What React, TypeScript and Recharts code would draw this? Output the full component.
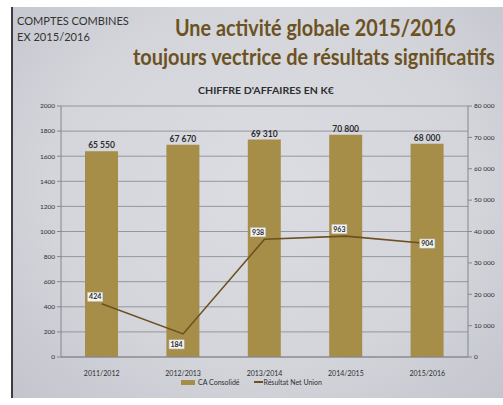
import { useLayoutEffect, useRef, useState } from 'react'
import {
  ComposedChart,
  Bar,
  Line,
  XAxis,
  YAxis,
  CartesianGrid,
  LabelList,
  Legend,
} from 'recharts'

const years = ['2011/2012', '2012/2013', '2013/2014', '2014/2015', '2015/2016']
const caConsolide = [65550, 67670, 69310, 70800, 68000]
const resultatNet = [424, 184, 938, 963, 904]
const leftTicks = [0, 200, 400, 600, 800, 1000, 1200, 1400, 1600, 1800, 2000]
const rightTicks = [0, 10000, 20000, 30000, 40000, 50000, 60000, 70000, 80000]

const data = years.map((year, i) => ({
  year,
  ca: caConsolide[i],
  net: resultatNet[i],
}))

const BAR = '#a68d48'
const LINE = '#6b5020'
const TITLE = '#6c5222'
const GRID = '#85878c'
const TEXT = '#2e2e30'
const FONT = 'Lato, "Open Sans", sans-serif'

// "65 550" style, french thousands separator (non-breaking so recharts won't wrap it)
function fr(v: number): string {
  const s = String(v)
  return s.length > 3 ? s.slice(0, -3) + '\u00a0' + s.slice(-3) : s
}

// svg text squeezed horizontally to a given width (the slide font is narrower than Lato)
function FitText({ x, y, width, size, bold, color, children }: any) {
  const ref = useRef<SVGTextElement>(null)
  const [sx, setSx] = useState(1)
  useLayoutEffect(() => {
    if (ref.current) {
      const w = ref.current.getComputedTextLength()
      if (w > 0) setSx(width / w)
    }
  }, [width])
  return (
    <text
      ref={ref}
      transform={`translate(${x},${y}) scale(${sx},1)`}
      fontSize={size}
      fontWeight={bold ? 'bold' : 'normal'}
      fontFamily={FONT}
      fill={color}
    >
      {children}
    </text>
  )
}

function XTick({ x, y, payload }: any) {
  return (
    <text x={x} y={y + 11} textAnchor="middle" fontSize={7} fontFamily={FONT} fill={TEXT}>
      {payload.value}
    </text>
  )
}

// small white boxed label beside each point of the line
function NetLabel({ x, y, value, index }: any) {
  const w = 15
  const h = 9
  let bx = x - w + 1
  let by = y - 7 - h / 2
  if (index === 1) by = y + 6
  if (index === resultatNet.length - 1) {
    bx = x - w / 2
    by = y - h / 2
  }
  return (
    <g>
      <rect x={bx} y={by} width={w} height={h} fill="#f4f4f2" stroke="#c9c9c9" strokeWidth={0.6} />
      <text
        x={bx + w / 2}
        y={by + h / 2 + 2.4}
        textAnchor="middle"
        fontSize={7}
        fontWeight="bold"
        fontFamily={FONT}
        fill={TEXT}
      >
        {value}
      </text>
    </g>
  )
}

function ChartLegend() {
  return (
    <div style={{ display: 'flex', justifyContent: 'center', alignItems: 'center', fontFamily: FONT, fontSize: 7, color: TEXT }}>
      <span style={{ display: 'inline-block', width: 14, height: 5, background: BAR, marginRight: 3 }} />
      <span>CA Consolidé</span>
      <span style={{ display: 'inline-block', width: 9, height: 1.5, background: LINE, marginLeft: 14, marginRight: 1 }} />
      <span>Résultat Net Union</span>
    </div>
  )
}

export default function App() {
  return (
    <div style={{ position: 'absolute', left: 0, top: 0, width: 503, height: 405, background: '#ffffff', overflow: 'hidden' }}>
      <div
        style={{
          position: 'absolute',
          left: 11,
          top: 7,
          width: 500,
          height: 391,
          background: 'radial-gradient(ellipse at 50% 45%, #dcdde2 0%, #d3d5db 60%, #c3c4cc 100%)',
          borderLeft: '2px solid #3c3c44',
          borderTopRightRadius: 8,
        }}
      />
      <svg width={503} height={405} style={{ position: 'absolute', left: 0, top: 0 }}>
        <FitText x={17} y={25} width={112} size={12} color="#333">COMPTES COMBINES</FitText>
        <FitText x={17} y={41} width={73} size={12} color="#333">EX 2015/2016</FitText>
        <FitText x={175} y={36} width={281} size={22} bold color={TITLE}>
          Une activité globale 2015/2016
        </FitText>
        <FitText x={133} y={65} width={362} size={22} bold color={TITLE}>
          toujours vectrice de résultats significatifs
        </FitText>
        <FitText x={198} y={94} width={136} size={10} bold color={TEXT}>
          CHIFFRE D'AFFAIRES EN K€
        </FitText>
      </svg>
      <div style={{ position: 'absolute', left: 0, top: 0 }}>
        <ComposedChart
          width={503}
          height={405}
          data={data}
          margin={{ top: 106, right: 0, bottom: 0, left: 0 }}
        >
          <CartesianGrid yAxisId="left" vertical={false} stroke={GRID} strokeWidth={0.8} />
          <XAxis
            dataKey="year"
            height={48}
            tick={<XTick />}
            tickLine={false}
            axisLine={{ stroke: GRID }}
            interval={0}
          />
          <YAxis
            yAxisId="left"
            width={61}
            domain={[0, 2000]}
            ticks={leftTicks}
            interval={0}
            tick={{ fontSize: 6.5, fontFamily: FONT, fill: TEXT }}
            tickLine={{ stroke: GRID }}
            tickSize={4}
            axisLine={{ stroke: GRID }}
          />
          <YAxis
            yAxisId="right"
            orientation="right"
            width={35}
            domain={[0, 80000]}
            ticks={rightTicks}
            interval={0}
            tickFormatter={fr}
            tick={{ fontSize: 6.5, fontFamily: FONT, fill: TEXT }}
            tickLine={{ stroke: GRID }}
            tickSize={4}
            axisLine={{ stroke: GRID }}
          />
          <Legend
            verticalAlign="middle"
            content={<ChartLegend />}
            wrapperStyle={{ top: 378, left: 0, width: 503 }}
          />
          <Bar yAxisId="right" dataKey="ca" name="CA Consolidé" fill={BAR} barSize={33} isAnimationActive={false}>
            <LabelList
              dataKey="ca"
              position="top"
              offset={3}
              formatter={(v: any) => fr(Number(v))}
              style={{ fontSize: 8.5, fontWeight: 'bold', fontFamily: FONT, fill: TEXT }}
            />
          </Bar>
          <Line
            yAxisId="left"
            dataKey="net"
            name="Résultat Net Union"
            stroke={LINE}
            strokeWidth={1.6}
            dot={false}
            isAnimationActive={false}
          >
            <LabelList dataKey="net" content={<NetLabel />} />
          </Line>
        </ComposedChart>
      </div>
    </div>
  )
}
